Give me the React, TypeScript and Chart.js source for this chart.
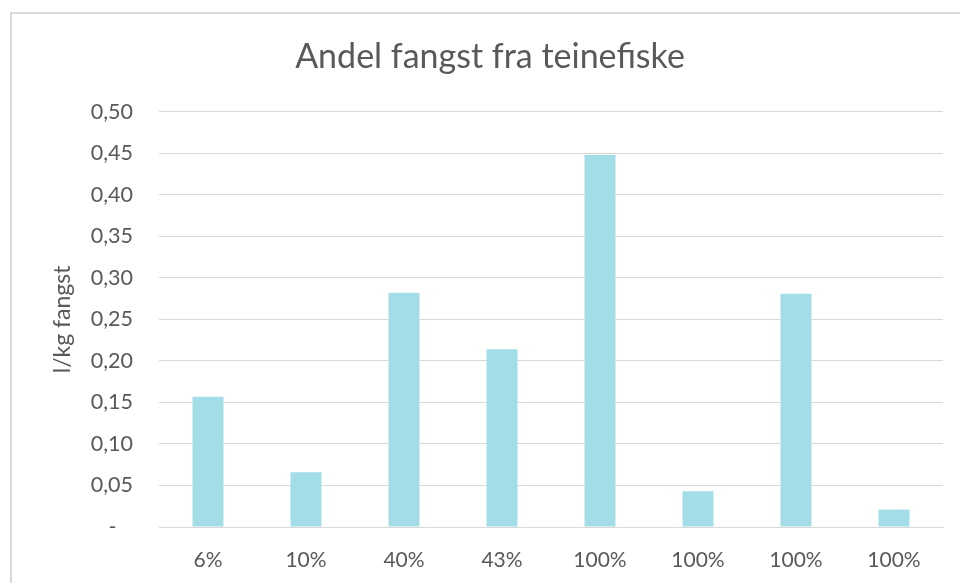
import React, { useEffect, useRef } from "react";
import { Chart, registerables } from "chart.js";

Chart.register(...registerables);

const categories = ["6%", "10%", "40%", "43%", "100%", "100%", "100%", "100%"];
const values = [0.157, 0.066, 0.282, 0.214, 0.448, 0.043, 0.281, 0.021];
const chartTitle = "Andel fangst fra teinefiske";
const yTitle = "l/kg fangst";
const yMin = 0;
const yMax = 0.5;
const yStep = 0.05;

const TEXT = "#595959";
const GRID = "#d9d9d9";
const BAR = "#a3dde8";
const FONT = "Lato, 'Open Sans', sans-serif";

export default function App() {
  const ref = useRef<HTMLCanvasElement | null>(null);

  useEffect(() => {
    if (!ref.current) return;
    const chart = new Chart(ref.current, {
      type: "bar",
      data: {
        labels: categories,
        datasets: [
          {
            data: values,
            backgroundColor: BAR,
            borderWidth: 0,
            barPercentage: 0.316,
            categoryPercentage: 1,
          },
        ],
      },
      options: {
        animation: false,
        responsive: false,
        layout: { padding: { left: 37, right: 17, top: 0, bottom: 0 } },
        plugins: {
          legend: { display: false },
          tooltip: { enabled: false },
          title: {
            display: true,
            text: chartTitle,
            color: TEXT,
            font: { family: FONT, size: 34, weight: "normal" },
            padding: { top: 37, bottom: 34 },
          },
        },
        scales: {
          x: {
            grid: { display: false, drawTicks: false },
            border: { display: true, color: GRID, width: 1 },
            ticks: {
              color: TEXT,
              font: { family: FONT, size: 21 },
              padding: 21,
              maxRotation: 0,
              autoSkip: false,
            },
            afterFit: (s: any) => {
              s.height = 56;
            },
          },
          y: {
            min: yMin,
            max: yMax,
            grid: { color: GRID, lineWidth: 1, drawTicks: false },
            border: { display: false },
            ticks: {
              stepSize: yStep,
              color: TEXT,
              font: { family: FONT, size: 21.5 },
              padding: 26,
              callback: (v: any) => {
                const n = Number(v);
                if (Math.abs(n) < 1e-9) return "-   ";
                return n.toFixed(2).replace(".", ",");
              },
            },
            title: {
              display: true,
              text: yTitle,
              color: TEXT,
              font: { family: FONT, size: 23 },
              padding: { top: 12, bottom: 0 },
            },
            afterFit: (s: any) => {
              s.width = 122;
            },
          },
        },
      },
    });
    return () => chart.destroy();
  }, []);

  return (
    <div style={{ position: "fixed", left: 0, top: 0, width: 960, height: 583, background: "#fff" }}>
      <div
        style={{
          position: "absolute",
          left: 10,
          top: 12,
          width: 980,
          height: 600,
          borderLeft: `2px solid ${GRID}`,
          borderTop: `2px solid ${GRID}`,
          boxSizing: "border-box",
        }}
      />
      <canvas ref={ref} width={960} height={583} style={{ position: "absolute", left: 0, top: 0 }} />
    </div>
  );
}
